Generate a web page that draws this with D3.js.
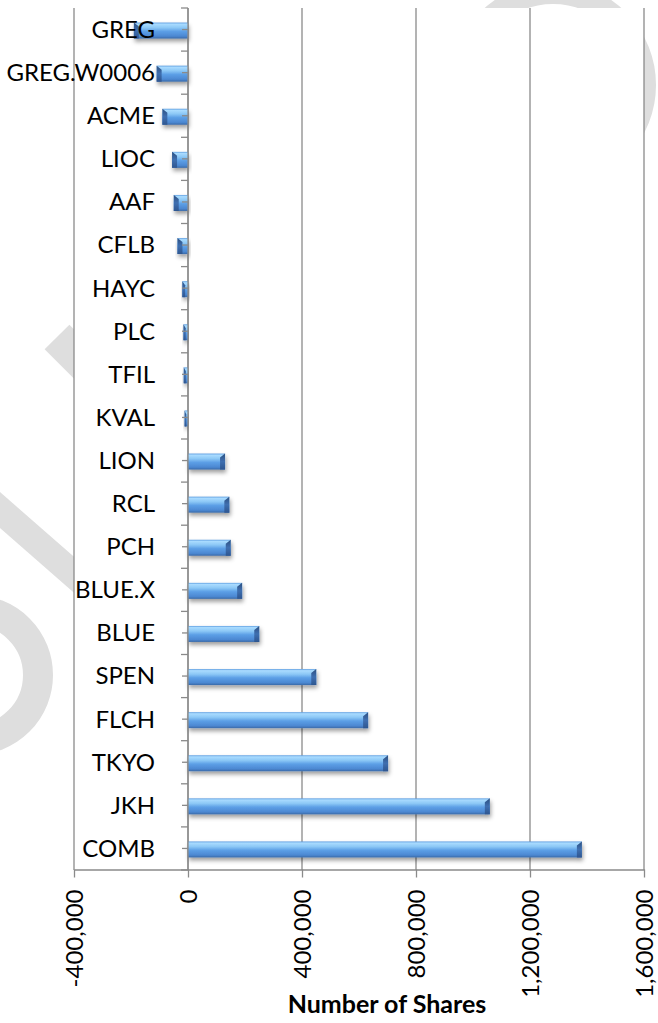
<!DOCTYPE html>
<html>
<head>
<meta charset="utf-8">
<script src="https://cdnjs.cloudflare.com/ajax/libs/d3/7.8.5/d3.min.js"></script>
<style>
  body { margin: 0; background: #fff; }
  text { font-family: Lato, "Open Sans", sans-serif; fill: #000; }
</style>
</head>
<body>
<svg width="658" height="1023"></svg>
<script>
//categories from top to bottom
const stocks = ["GREG", "GREG.W0006", "ACME", "LIOC", "AAF", "CFLB", "HAYC", "PLC", "TFIL", "KVAL",
  "LION", "RCL", "PCH", "BLUE.X", "BLUE", "SPEN", "FLCH", "TKYO", "JKH", "COMB"];
//number of shares
const shares = [-190000, -110000, -90000, -56000, -50000, -37000, -20000, -16000, -15000, -12000,
  130000, 145000, 150000, 190000, 250000, 450000, 632000, 702000, 1059000, 1382000];
const xTicks = [-400000, 0, 400000, 800000, 1200000, 1600000];
const xTitle = "Number of Shares";

let svg = d3.select("svg");
let plotLeft = 74, plotRight = 644, plotTop = 8, plotBottom = 870;

let xScale = d3.scaleLinear().domain([-400000, 1600000]).range([plotLeft, plotRight]);
let yScale = d3.scaleBand().domain(stocks).range([plotTop, plotBottom]).padding(0);

let defs = svg.append("defs");
let grad = defs.append("linearGradient")
  .attr("id", "barGrad")
  .attr("x1", 0).attr("y1", 0).attr("x2", 0).attr("y2", 1);
[[0, "#5f9ee0"], [0.1, "#a9dbff"], [0.32, "#8cc8f6"], [0.55, "#5c9fe6"], [0.85, "#4c88d2"], [1, "#3a6aa8"]]
  .forEach(function(s) {
    grad.append("stop").attr("offset", s[0]).attr("stop-color", s[1]);
  });
let capGrad = defs.append("linearGradient")
  .attr("id", "capGrad")
  .attr("x1", 0).attr("y1", 0).attr("x2", 0).attr("y2", 1);
[[0, "#2c4f80"], [0.5, "#3f6fb0"], [1, "#2e5690"]].forEach(function(s) {
  capGrad.append("stop").attr("offset", s[0]).attr("stop-color", s[1]);
});
defs.append("filter")
  .attr("id", "shadow")
  .attr("x", "-20%").attr("y", "-50%").attr("width", "140%").attr("height", "220%")
  .append("feDropShadow")
  .attr("dx", 1).attr("dy", 3).attr("stdDeviation", 2)
  .attr("flood-color", "#000").attr("flood-opacity", 0.38);

// watermark behind the chart
let wm = svg.append("g").attr("fill", "none").attr("stroke", "#dedede");
wm.append("circle").attr("cx", 553).attr("cy", 85).attr("r", 92).attr("stroke-width", 22);
wm.append("circle").attr("cx", -27).attr("cy", 675).attr("r", 65).attr("stroke-width", 30);
wm.append("line").attr("x1", 57).attr("y1", 337).attr("x2", 220).attr("y2", 500).attr("stroke-width", 35);
wm.append("line").attr("x1", -40).attr("y1", 475).attr("x2", 120).attr("y2", 615).attr("stroke-width", 27);

// plot area
svg.append("rect")
  .attr("x", plotLeft).attr("y", plotTop)
  .attr("width", plotRight - plotLeft).attr("height", plotBottom - plotTop)
  .attr("fill", "#fff");

// GRIDLINES
svg.append("g")
  .selectAll("line")
  .data(xTicks)
  .enter()
  .append("line")
  .attr("x1", function(d) { return xScale(d); })
  .attr("x2", function(d) { return xScale(d); })
  .attr("y1", plotTop)
  .attr("y2", plotBottom)
  .attr("stroke", "#8a8a8a")
  .attr("stroke-width", 1.3);

// X AXIS
let fmt = d3.format(",");
let xAxis = svg.append("g")
  .attr("class", "x axis")
  .attr("transform", "translate(0," + (plotBottom - 0.5) + ")")
  .call(d3.axisBottom(xScale).tickValues(xTicks)
    .tickFormat(function(d) { return fmt(d).replace("\u2212", "-"); })
    .tickSize(8).tickSizeOuter(0));
xAxis.select(".domain").attr("stroke", "#8a8a8a").attr("stroke-width", 1.3);
xAxis.selectAll(".tick line").attr("stroke", "#8a8a8a").attr("stroke-width", 1.3);
xAxis.selectAll(".tick text")
  .attr("transform", "rotate(-90)")
  .attr("x", -20)
  .attr("y", 0)
  .attr("dy", "0.35em")
  .attr("text-anchor", "end")
  .style("font-size", "24px")
  .style("font-family", "Lato, sans-serif");

// BARS
let bh = 16;
let bars = svg.append("g")
  .selectAll(".bar")
  .data(stocks)
  .enter()
  .append("g")
  .attr("class", "bar")
  .attr("filter", "url(#shadow)");
bars.append("rect")
  .attr("x", function(d, i) { return Math.min(xScale(0), xScale(shares[i])); })
  .attr("y", function(d) { return yScale(d) + yScale.bandwidth() / 2 - bh / 2 + 1; })
  .attr("width", function(d, i) { return Math.abs(xScale(shares[i]) - xScale(0)); })
  .attr("height", bh)
  .attr("fill", "url(#barGrad)");
// darker bevel at the far end
bars.append("path")
  .attr("d", function(d, i) {
    let x0 = xScale(shares[i]);
    let y0 = yScale(d) + yScale.bandwidth() / 2 - bh / 2 + 1;
    let w = Math.min(5, Math.abs(x0 - xScale(0)) / 2);
    let s = shares[i] < 0 ? 1 : -1;
    return "M" + x0 + "," + y0 + "L" + (x0 + s * w) + "," + (y0 + 4) + "L" + (x0 + s * w) + "," + (y0 + bh) +
      "L" + x0 + "," + (y0 + bh) + "Z";
  })
  .attr("fill", "url(#capGrad)");

// Y AXIS at zero
let yAxis = svg.append("g")
  .attr("class", "y axis")
  .attr("transform", "translate(" + xScale(0) + ",0)");
yAxis.append("line")
  .attr("y1", plotTop).attr("y2", plotBottom)
  .attr("stroke", "#8a8a8a").attr("stroke-width", 1.3);
// ticks between categories
yAxis.selectAll(".btick")
  .data(d3.range(stocks.length + 1))
  .enter()
  .append("line")
  .attr("class", "btick")
  .attr("x1", -7).attr("x2", 0)
  .attr("y1", function(i) { return plotTop + i * yScale.step(); })
  .attr("y2", function(i) { return plotTop + i * yScale.step(); })
  .attr("stroke", "#8a8a8a").attr("stroke-width", 1.3);
yAxis.selectAll(".ctick")
  .data(stocks)
  .enter()
  .append("line")
  .attr("class", "ctick")
  .attr("x1", -6).attr("x2", 0)
  .attr("y1", function(d) { return yScale(d) + yScale.bandwidth() / 2; })
  .attr("y2", function(d) { return yScale(d) + yScale.bandwidth() / 2; })
  .attr("stroke", "#8a8a8a").attr("stroke-width", 1.3);

// LABELS
svg.append("g")
  .selectAll(".label")
  .data(stocks)
  .enter()
  .append("text")
  .attr("class", "label")
  .attr("x", 155)
  .attr("y", function(d) { return yScale(d) + yScale.bandwidth() / 2; })
  .attr("dy", "0.35em")
  .attr("text-anchor", "end")
  .style("font-size", "24px")
  .text(function(d) { return d; });

// axis title
svg.append("text")
  .attr("x", 387)
  .attr("y", 1013)
  .attr("text-anchor", "middle")
  .style("font-size", "25px")
  .style("font-weight", "bold")
  .text(xTitle);
</script>
</body>
</html>
